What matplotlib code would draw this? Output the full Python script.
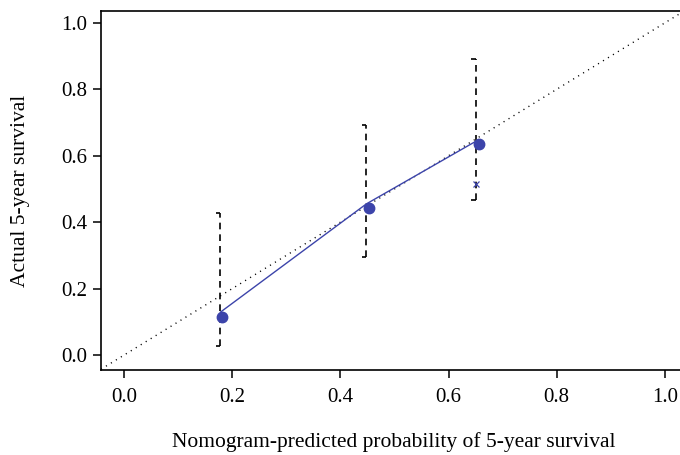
import matplotlib
matplotlib.use('Agg')
import matplotlib.pyplot as plt

# calibration data
pred_mean = [0.178, 0.448, 0.651]      # line / error bar x
obs_line = [0.129, 0.455, 0.644]       # line y
pt_x = [0.180, 0.452, 0.656]           # dots
pt_y = [0.114, 0.443, 0.636]
ci_lo = [0.027, 0.296, 0.467]
ci_hi = [0.428, 0.691, 0.891]
corr_x = [0.651]                       # bias-corrected "x"
corr_y = [0.515]
ticks = [0.0, 0.2, 0.4, 0.6, 0.8, 1.0]
tick_labels = ['0.0', '0.2', '0.4', '0.6', '0.8', '1.0']

blue = '#3c44aa'
plt.rcParams['font.family'] = ['Liberation Serif', 'DejaVu Serif']

fig = plt.figure(figsize=(6.8, 4.55), dpi=100)
ax = fig.add_axes([0.1485, 0.187, 0.861, 0.789])

ax.axline((0, 0), slope=1, color='black', lw=1.0, ls=(0, (0.8, 3.4)), zorder=1)

ax.vlines(pred_mean, ci_lo, ci_hi, colors='black', lw=1.2, linestyles=(0, (4, 3)), zorder=2)
cap = 0.009
ax.hlines(ci_lo, [x - cap for x in pred_mean], pred_mean, colors='black', lw=1.2, zorder=2)
ax.hlines(ci_hi, [x - cap for x in pred_mean], pred_mean, colors='black', lw=1.2, zorder=2)

ax.plot(pred_mean, obs_line, color=blue, lw=1.0, zorder=3)
ax.plot(pt_x, pt_y, 'o', color=blue, ms=7.5, mec=blue, zorder=4)
ax.plot(corr_x, corr_y, 'x', color=blue, ms=4, mew=0.9, zorder=4)

ax.set_xlim(-0.043, 1.04)
ax.set_ylim(-0.045, 1.036)
ax.set_xticks(ticks)
ax.set_xticklabels(tick_labels)
ax.set_yticks(ticks)
ax.set_yticklabels(tick_labels)
ax.tick_params(direction='out', length=6, width=1.1, labelsize=15)
ax.tick_params(axis='x', pad=7)
ax.tick_params(axis='y', pad=4)
for s in ax.spines.values():
    s.set_linewidth(1.2)

ax.set_xlabel('Nomogram-predicted probability of 5-year survival', fontsize=15.5, labelpad=18)
ax.set_ylabel('Actual 5-year survival', fontsize=15.5, labelpad=22)

fig.savefig('out.png', dpi=100)
